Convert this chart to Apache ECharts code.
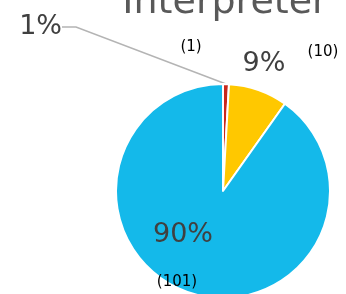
<!DOCTYPE html>
<html>
<head>
<meta charset="utf-8">
<script src="https://cdn.jsdelivr.net/npm/echarts@6/dist/echarts.min.js"></script>
<style>
    html, body { margin: 0; padding: 0; background: #fff; }
    #chart { width: 346px; height: 294px; }
</style>
</head>
<body>
<div id="chart"></div>
<script>
const categories = ['Red', 'Yellow', 'Blue'];
const counts = [1, 10, 101];
const colors = ['#c8281c', '#ffc800', '#14b9ea'];

// where each label sits (percent label / count label)
const pctPos = [[71, 27, 'right'], [264, 64, 'center'], [183, 235, 'center']];
const cntPos = [[191, 47], [323, 52], [177, 282]];

let pieData = categories.map((name, i) => ({
    name: name,
    value: counts[i],
    itemStyle: {color: colors[i]},
    labelLine: {show: i === 0},
    label: {padding: i === 0 ? [0, 9, 0, 0] : 0}
}));

let myChart = echarts.init(document.getElementById('chart'));
let option = {
    backgroundColor: '#fff',
    title: {
        text: 'Interpreter',
        left: 220,
        textAlign: 'center',
        top: -21,
        textStyle: {
            fontFamily: 'DejaVu Sans',
            fontSize: 38,
            fontWeight: 'normal',
            color: '#595959'
        }
    },
    series: [
        {
            type: 'pie',
            center: [223, 191],
            radius: 107,
            startAngle: 90,
            clockwise: true,
            percentPrecision: 0,
            itemStyle: {borderColor: '#fff', borderWidth: 2},
            emphasis: {disabled: true},
            label: {
                show: true,
                position: 'outside',
                formatter: '{d}%',
                overflow: 'none',
                fontFamily: 'DejaVu Sans',
                fontSize: 27,
                color: '#404040'
            },
            labelLine: {
                show: true,
                length: 10,
                length2: 14,
                lineStyle: {color: '#b4b4b4', width: 1.5}
            },
            labelLayout: function (params) {
                let p = pctPos[params.dataIndex];
                return {x: p[0], y: p[1], align: p[2], verticalAlign: 'middle'};
            },
            data: pieData
        },
        {
            type: 'pie',
            center: [223, 191],
            radius: 107,
            startAngle: 90,
            silent: true,
            itemStyle: {color: 'rgba(0,0,0,0)'},
            label: {
                show: true,
                position: 'inside',
                formatter: '({c})',
                overflow: 'none',
                fontFamily: 'DejaVu Sans',
                fontSize: 15,
                color: '#000'
            },
            labelLine: {show: false},
            labelLayout: function (params) {
                let p = cntPos[params.dataIndex];
                return {x: p[0], y: p[1], align: 'center', verticalAlign: 'middle'};
            },
            data: categories.map((name, i) => ({name: name, value: counts[i]}))
        }
    ]
};
myChart.setOption(option);
</script>
</body>
</html>
